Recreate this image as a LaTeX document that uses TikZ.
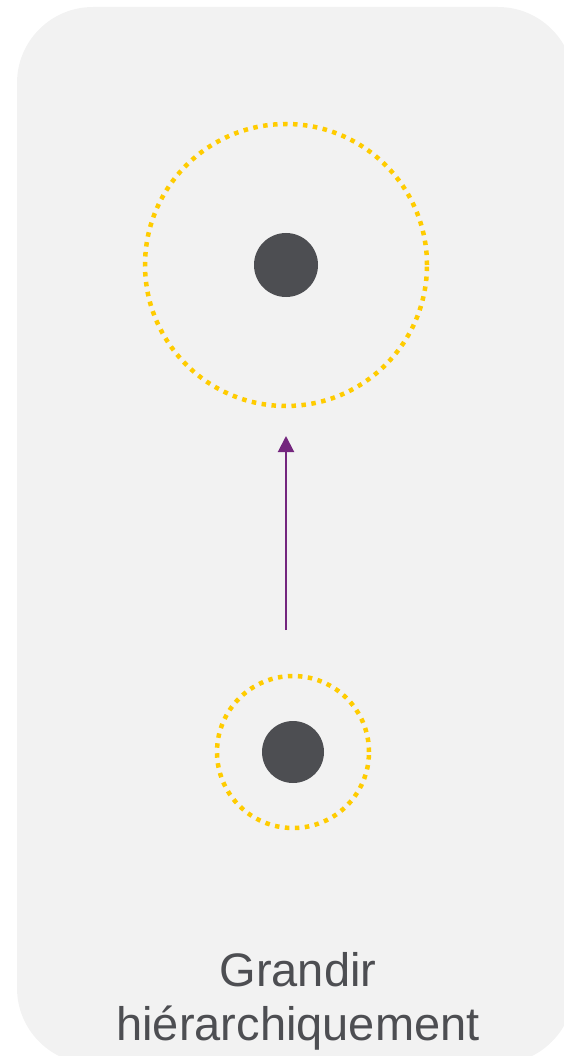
\documentclass[tikz,border=0pt]{standalone}
\usepackage{fontspec}
\setmainfont{Liberation Sans}
\usetikzlibrary{arrows.meta}
\definecolor{bgpanel}{HTML}{F2F2F2}
\definecolor{ringyellow}{HTML}{FFCC00}
\definecolor{dotgray}{HTML}{4D4E52}
\definecolor{arrowpurple}{HTML}{74267E}
\definecolor{textgray}{HTML}{4D4E52}
\tikzset{
  ring/.style={circle, draw=ringyellow, line width=4.5pt, dash pattern=on 4.5pt off 5.5pt, inner sep=0pt},
  core/.style={circle, fill=dotgray, inner sep=0pt},
  growarrow/.style={draw=arrowpurple, line width=2pt, -{Triangle[width=16pt,length=16pt]}},
  caption/.style={text=textgray, font=\fontsize{47}{54}\selectfont, align=center, inner sep=0pt}
}
\begin{document}
\begin{tikzpicture}[x=1pt,y=-1pt]
\useasboundingbox (0,0) rectangle (564,1056);
\clip (0,0) rectangle (564,1056);
\fill[bgpanel, rounded corners=76pt] (17,7) rectangle (574,1064);
\node[ring, minimum size=282pt] (outerA) at (286,265) {};
\node[core, minimum size=64pt] (dotA) at (286,265) {};
\node[ring, minimum size=152pt] (outerB) at (293,752) {};
\node[core, minimum size=62pt] (dotB) at (293,752) {};
\coordinate (tail) at (286,630);
\coordinate (tip) at (286,436);
\draw[growarrow] (tail) -- (tip);
\node[caption, anchor=base] (cap1) at (298,986) {Grandir};
\node[caption, anchor=base] (cap2) at (298,1040) {hiérarchiquement};
\end{tikzpicture}
\end{document}
